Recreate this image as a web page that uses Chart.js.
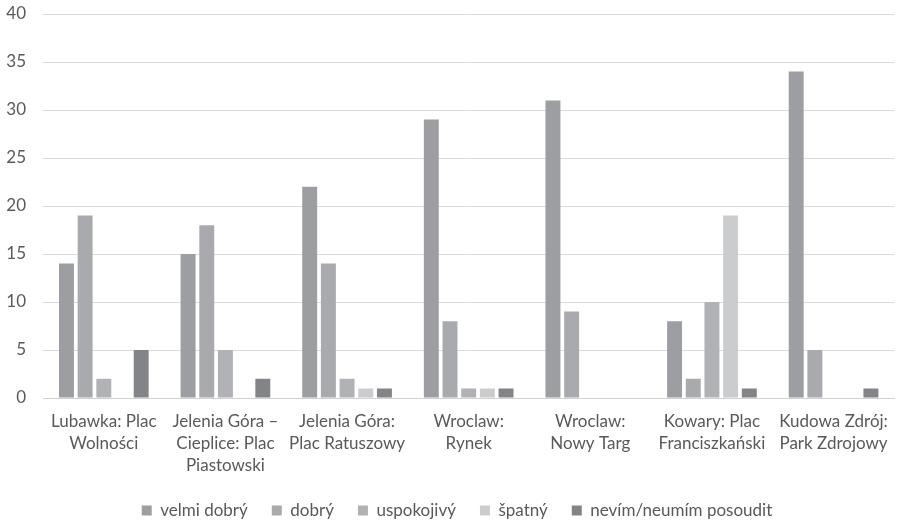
<!DOCTYPE html>
<html>
<head>
<meta charset="utf-8">
<script src="https://cdn.jsdelivr.net/npm/chart.js@4/dist/chart.umd.min.js"></script>
<style>
html,body{margin:0;padding:0;background:#fff;}
#wrap{width:900px;height:524px;position:relative;}
</style>
</head>
<body>
<div id="wrap"><canvas id="c" width="900" height="524"></canvas></div>
<script>
const categories = [
  ["Lubawka: Plac", "Wolności"],
  ["Jelenia Góra –", "Cieplice: Plac", "Piastowski"],
  ["Jelenia Góra:", "Plac Ratuszowy"],
  ["Wroclaw:", "Rynek"],
  ["Wroclaw:", "Nowy Targ"],
  ["Kowary: Plac", "Franciszkański"],
  ["Kudowa Zdrój:", "Park Zdrojowy"]
];
const seriesNames = ["velmi dobrý", "dobrý", "uspokojivý", "špatný", "nevím/neumím posoudit"];
const velmiDobry = [14, 15, 22, 29, 31, 8, 34];
const dobry      = [19, 18, 14, 8, 9, 2, 5];
const uspokojivy = [2, 5, 2, 1, 0, 10, 0];
const spatny     = [0, 0, 1, 1, 0, 19, 0];
const nevim      = [5, 2, 1, 1, 0, 1, 1];
const yTicks = [0, 5, 10, 15, 20, 25, 30, 35, 40];

const colors = ["#9d9ea2", "#a9aaad", "#b1b2b5", "#cbcccd", "#838487"];
const seriesData = [velmiDobry, dobry, uspokojivy, spatny, nevim];

const FONT = "Lato, 'Open Sans', sans-serif";

const shiftLegend = {
  id: 'shiftLegend',
  afterLayout(chart) {
    const lg = chart.legend;
    if (lg) { lg.left += 8; lg.right += 8; }
  }
};

new Chart(document.getElementById('c'), {
  type: 'bar',
  data: {
    labels: categories,
    datasets: seriesNames.map((n, i) => ({
      label: n,
      data: seriesData[i],
      backgroundColor: colors[i],
      borderWidth: 0,
      barPercentage: 0.8,
      categoryPercentage: 0.768
    }))
  },
  plugins: [shiftLegend],
  options: {
    responsive: false,
    animation: false,
    devicePixelRatio: 1,
    layout: { padding: { top: 0, right: 2, left: 0, bottom: -5 } },
    plugins: {
      legend: {
        position: 'bottom',
        labels: {
          boxWidth: 10, boxHeight: 10, padding: 24,
          color: '#595959',
          font: { family: FONT, size: 17 }
        }
      },
      tooltip: { enabled: false }
    },
    scales: {
      x: {
        grid: { display: false, drawTicks: false },
        border: { display: true, color: '#d0d0d0', width: 1 },
        ticks: {
          color: '#595959',
          font: { family: FONT, size: 17, lineHeight: 1.3 },
          padding: 12,
          maxRotation: 0, autoSkip: false
        },
        afterFit(scale) { scale.height = 80; }
      },
      y: {
        min: 0, max: 40,
        afterBuildTicks(scale) { scale.ticks = yTicks.map(v => ({ value: v })); },
        grid: { color: '#dadada', lineWidth: 1, drawTicks: false },
        border: { display: false },
        ticks: {
          color: '#595959',
          font: { family: FONT, size: 17 },
          padding: 17
        },
        afterFit(scale) { scale.width = 43; scale.paddingTop = 14; scale.paddingBottom = 0; }
      }
    }
  }
});
</script>
</body>
</html>
